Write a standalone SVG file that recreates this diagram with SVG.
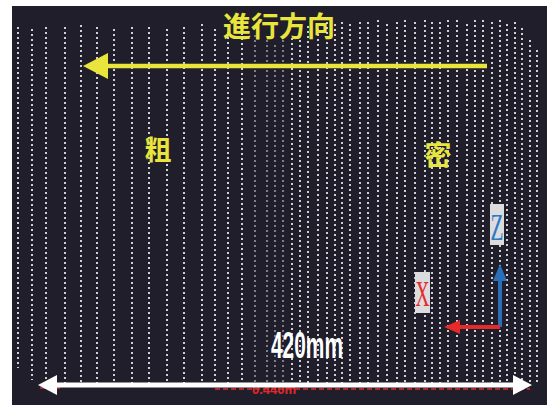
<svg xmlns="http://www.w3.org/2000/svg" width="547" height="405" viewBox="0 0 547 405">
<style>
.col{stroke:#cfcfd4;stroke-width:2;stroke-dasharray:2 3;fill:none}
.fa{opacity:.55}
.yl{fill:#e9e53c;font-family:"Noto Sans CJK JP","Noto Sans CJK SC",sans-serif;font-weight:bold}
.lab{font-family:"Liberation Serif",serif}
</style>
<rect x="0" y="0" width="547" height="405" fill="#ffffff"/>
<rect x="12" y="6" width="535" height="399" fill="#201e2b"/>
<g id="dots">
<path class="col" d="M18 27V368M32 29V380M46 27V385M65 27V385M81 25V385M97 27V385M114 29V385M132 27V385M149 27V385M167 29V385M184 27V385M202 24V385M215 29V385M228 32V385M242 28V385"/>
<path class="col fa" d="M255 35V385M267 40V385M275 45V385M283 40V385"/>
<path class="col" d="M292 38V385M300 30V385M308 26V385M318 24V385M327 22V385M335 24V385M342 22V385M350 24V385M360 22V385M368 22V385M378 20V385M387 24V385M397 22V385M405 20V385M415 22V385M425 20V385M432 22V385M440 22V385M448 20V385M457 20V385M467 24V385M475 20V385M483 20V385M492 22V385M500 20V385M507 24V385M515 22V385M522 28V385M530 40V385M537 50V385"/>
</g>
<g id="title"><text class="yl" x="279" y="37" font-size="28" text-anchor="middle">進行方向</text></g>
<g id="connectors">
<line x1="487" y1="66" x2="104" y2="66" stroke="#e9e53c" stroke-width="4.5"/>
<path d="M83,66 L108,53 L108,79 Z" fill="#e9e53c"/>
<line x1="215" y1="389" x2="530" y2="389" stroke="#e02a2a" stroke-width="1.5" stroke-dasharray="5 3"/>
<line x1="40" y1="388" x2="60" y2="388" stroke="#e02a2a" stroke-width="1.5"/>
<text x="274" y="394" font-size="13" fill="#e02a2a" font-family="Liberation Sans,sans-serif" text-anchor="middle" font-weight="bold">0.440m</text>
<line x1="52" y1="385" x2="518" y2="385" stroke="#ffffff" stroke-width="5"/>
<path d="M38,385 L57,375 L57,395 Z" fill="#ffffff"/>
<path d="M532,385 L513,375 L513,395 Z" fill="#ffffff"/>
<line x1="500" y1="327" x2="500" y2="280" stroke="#2a6fb8" stroke-width="4"/>
<path d="M500,264 L493,281 L507,281 Z" fill="#2a6fb8"/>
<line x1="500" y1="327" x2="458" y2="327" stroke="#e62a2a" stroke-width="4"/>
<path d="M444,327 L460,320 L460,334 Z" fill="#e62a2a"/>
</g>
<g id="coarse"><text class="yl" x="158" y="160" font-size="27" text-anchor="middle">粗</text></g>
<g id="dense"><text class="yl" x="438" y="165" font-size="27" text-anchor="middle">密</text></g>
<g id="zlabel"><rect x="490" y="204" width="14" height="41" fill="#dcdcde"/><text class="lab" x="497" y="240" font-size="38" fill="#2a7ac4" text-anchor="middle" textLength="13" lengthAdjust="spacingAndGlyphs">Z</text></g>
<g id="xlabel"><rect x="415" y="272" width="15" height="41" fill="#dcdcde"/><text class="lab" x="422.5" y="306" font-size="36" fill="#e62a2a" text-anchor="middle" textLength="14" lengthAdjust="spacingAndGlyphs">X</text></g>
<g id="len"><text x="307" y="358" font-size="36" fill="#ffffff" font-family="Liberation Sans,sans-serif" font-weight="bold" text-anchor="middle" textLength="72" lengthAdjust="spacingAndGlyphs">420mm</text></g>
</svg>
